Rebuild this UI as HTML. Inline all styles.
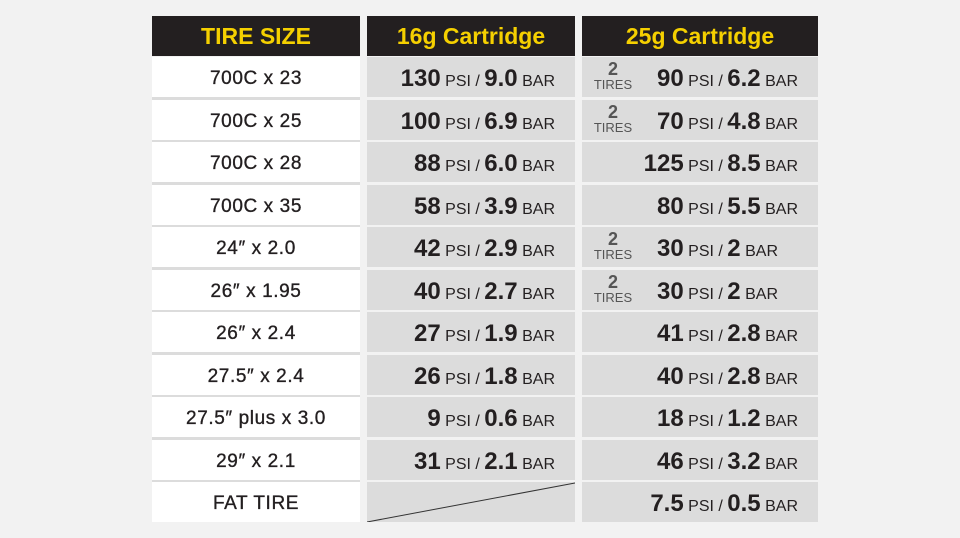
<!DOCTYPE html>
<html><head><style>
body{margin:0;width:960px;height:538px;background:#f2f2f2;position:relative;overflow:hidden;font-family:"Liberation Sans",sans-serif;color:#231f20}
.h{position:absolute;top:16px;height:40px;background:#231f20;color:#f5d000;font-weight:bold;font-size:23px;line-height:41px;text-align:center}
.c{position:absolute;height:40px;line-height:43px;box-sizing:border-box}
.a{left:152px;width:208px;background:#fff;text-align:center;font-size:19px;letter-spacing:0.6px;-webkit-text-stroke:0.35px #231f20}
.b{left:367px;width:208px;background:#dcdcdc;text-align:right;padding-right:20px}
.d{left:582px;width:236px;background:#dcdcdc;text-align:right;padding-right:20px}
.n{font-weight:bold;font-size:24px}
.s{font-size:16px}
.t{position:absolute;left:10px;top:3px;width:42px;text-align:center;line-height:14px;color:#555;font-size:13px}
.t b{font-size:18px;display:block;line-height:18px}
</style></head><body>
<div class="h" style="left:152px;width:208px">TIRE SIZE</div>
<div class="h" style="left:367px;width:208px">16g Cartridge</div>
<div class="h" style="left:582px;width:236px">25g Cartridge</div>
<div id="g"></div>
<script>
var rows=[["700C x 23","130","9.0","90","6.2",1],["700C x 25","100","6.9","70","4.8",1],["700C x 28","88","6.0","125","8.5"],["700C x 35","58","3.9","80","5.5"],["24\u2033 x 2.0","42","2.9","30","2",1],["26\u2033 x 1.95","40","2.7","30","2",1],["26\u2033 x 2.4","27","1.9","41","2.8"],["27.5\u2033 x 2.4","26","1.8","40","2.8"],["27.5\u2033 plus x 3.0","9","0.6","18","1.2"],["29\u2033 x 2.1","31","2.1","46","3.2"],["FAT TIRE","","","7.5","0.5"]];
var h="";
rows.forEach(function(r,i){var t=57+i*42.5;
h+='<div class="c a" style="top:'+t+'px">'+r[0]+'</div>';
if(i<10)h+='<div style="position:absolute;left:152px;width:208px;top:'+(t+40)+'px;height:3px;background:#dcdcdc"></div>';
h+='<div class="c b" style="top:'+t+'px">'+(r[1]?'<span class="n">'+r[1]+'</span> <span class="s">PSI / </span><span class="n">'+r[2]+'</span> <span class="s">BAR</span>':'<svg width="208" height="40" style="position:absolute;left:0;top:0"><line x1="0" y1="40" x2="208" y2="1" stroke="#333" stroke-width="1"/></svg>')+'</div>';
h+='<div class="c d" style="top:'+t+'px;'+(r[4]=="2"?'padding-right:40px':'')+'">'+(r[5]?'<div class="t"><b>2</b>TIRES</div>':'')+'<span class="n">'+r[3]+'</span> <span class="s">PSI / </span><span class="n">'+r[4]+'</span> <span class="s">BAR</span></div>';
});
document.getElementById("g").innerHTML=h;
</script>
</body></html>
